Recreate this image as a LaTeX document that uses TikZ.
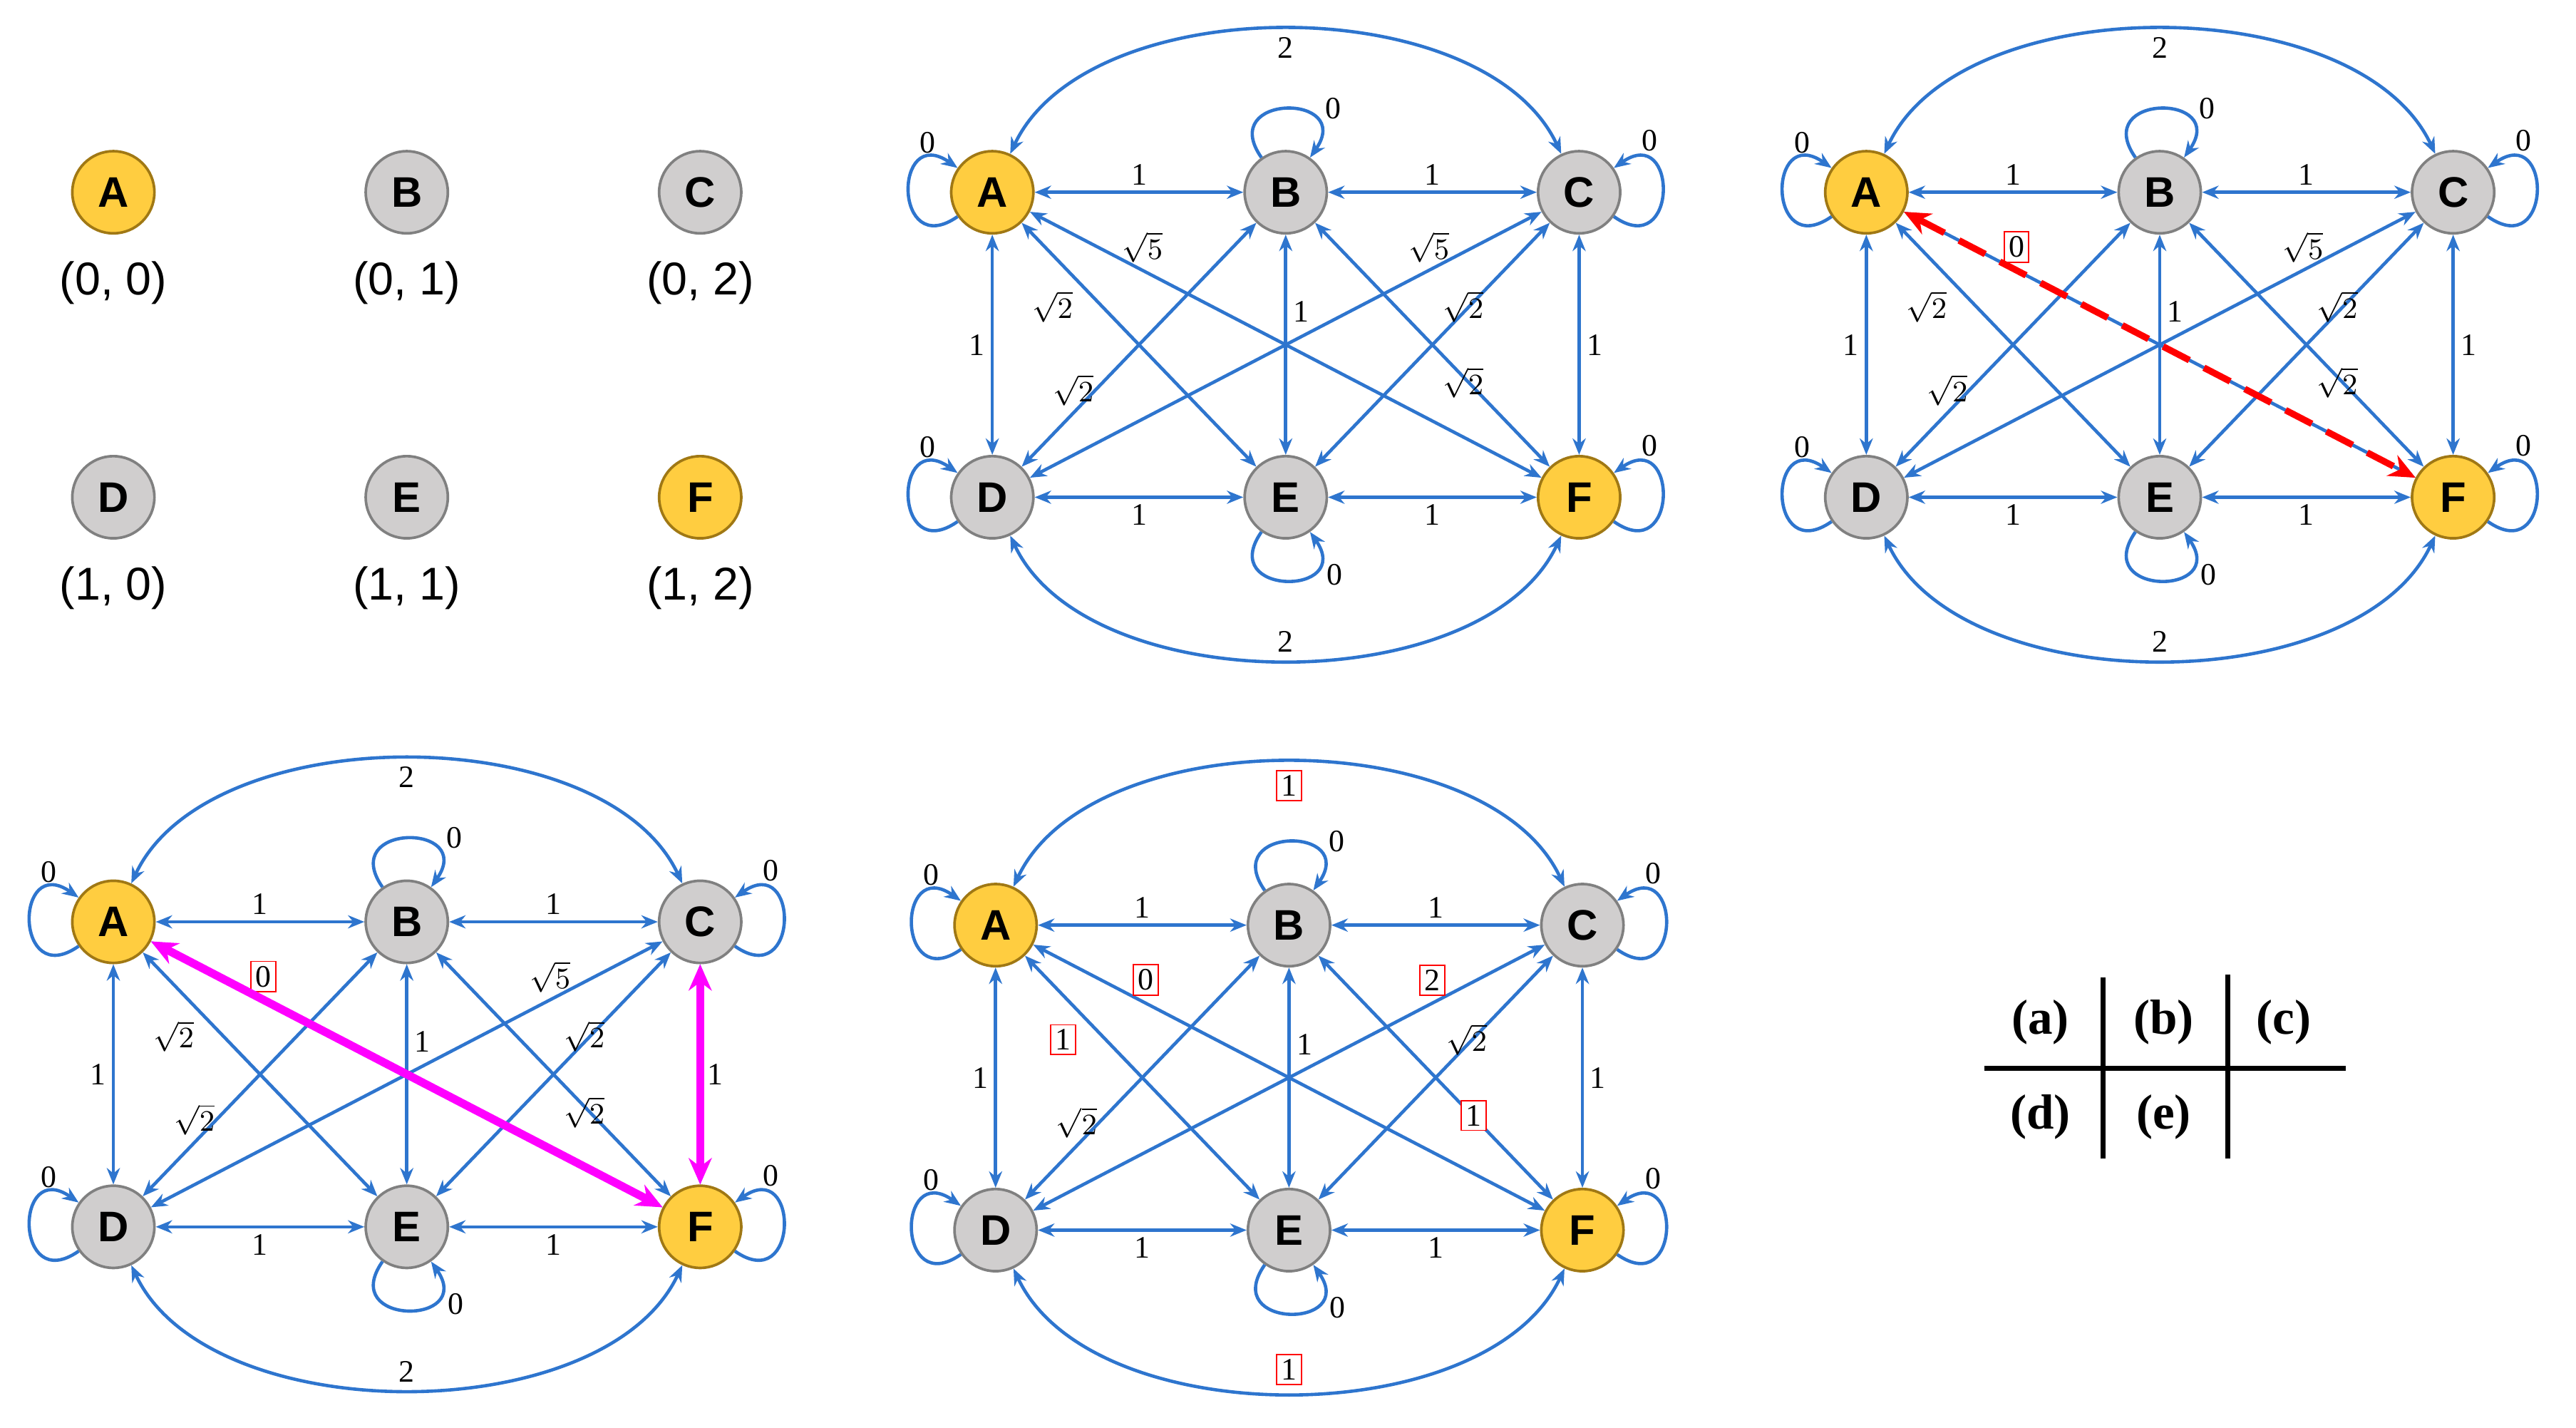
\documentclass[tikz,border=0pt]{standalone}
\usepackage{fontspec}
\setmainfont{Liberation Serif}
\newfontfamily\sansfont{Liberation Sans}
\usetikzlibrary{positioning,arrows.meta}

\definecolor{edgeblue}{RGB}{46,117,206}
\definecolor{nodegold}{RGB}{255,205,64}
\definecolor{golddraw}{RGB}{160,120,20}
\definecolor{nodegray}{RGB}{208,206,206}
\definecolor{graydraw}{RGB}{128,128,128}
\definecolor{pathpink}{RGB}{255,0,255}

\newcommand\bx[1]{{\setlength{\fboxsep}{1.2pt}\fcolorbox{red}{white}{#1}}}

\tikzset{
gold/.style={circle, draw=golddraw, fill=nodegold, thick, minimum size=25pt, inner sep=0pt, font=\sansfont\bfseries\fontsize{13}{13}\selectfont},
grey/.style={circle, draw=graydraw, fill=nodegray, thick, minimum size=25pt, inner sep=0pt, font=\sansfont\bfseries\fontsize{13}{13}\selectfont},
edge/.style={{Stealth[length=5pt,width=4pt]}-{Stealth[length=5pt,width=4pt]}, draw=edgeblue, line width=1pt},
loopy/.style={-{Stealth[length=5pt,width=4pt]}, draw=edgeblue, line width=1pt},
lbl/.style={font=\fontsize{9.5}{9.5}\selectfont, inner sep=1.8pt, text=black},
coord/.style={font=\sansfont\fontsize{14}{14}\selectfont, inner sep=1pt},
tab/.style={font=\bfseries\fontsize{15}{15}\selectfont}
}

% #1 prefix, #2 #3 position of A, #4 AC, #5 DF, #6 AF, #7 CD, #8 AE, #9 BF
\newcommand\panel[9]{%
\node[gold](#1A) at (#2,#3) {A};
\node[grey](#1B)[right=of #1A]{B};
\node[grey](#1C)[right=of #1B]{C};
\node[grey](#1D)[below=of #1A]{D};
\node[grey](#1E)[right=of #1D]{E};
\node[gold](#1F)[right=of #1E]{F};

\draw[edge] (#1A) -- node[lbl,above]{1} (#1B);
\draw[edge] (#1B) -- node[lbl,above]{1} (#1C);
\draw[edge] (#1D) -- node[lbl,below]{1} (#1E);
\draw[edge] (#1E) -- node[lbl,below]{1} (#1F);
\draw[edge] (#1A) -- node[lbl,left]{1} (#1D);
\draw[edge] (#1B) -- node[lbl,right,pos=0.35]{1} (#1E);
\draw[edge] (#1C) -- node[lbl,right]{1} (#1F);
\draw[edge] (#1A) to[out=65,in=115,looseness=0.85] node[lbl,below]{#4} (#1C);
\draw[edge] (#1D) to[out=-65,in=-115,looseness=0.85] node[lbl,above]{#5} (#1F);
\draw[edge] (#1A) -- node[lbl,above,pos=0.22]{#6} (#1F);
\draw[edge] (#1C) -- node[lbl,above,pos=0.22]{#7} (#1D);
\draw[edge] (#1A) -- node[lbl,below left,pos=0.25]{#8} (#1E);
\draw[edge] (#1B) -- node[lbl,above,pos=0.78]{$\sqrt{2}$} (#1D);
\draw[edge] (#1C) -- node[lbl,below left,pos=0.25]{$\sqrt{2}$} (#1E);
\draw[edge] (#1B) -- node[lbl,above left,pos=0.75]{#9} (#1F);

\draw[loopy] (#1A) to[loop,out=215,in=145,min distance=24pt] node[lbl,pos=0.92,above left]{0} (#1A);
\draw[loopy] (#1B) to[loop,out=125,in=55,min distance=24pt] node[lbl,pos=0.8,above right]{0} (#1B);
\draw[loopy] (#1C) to[loop,out=-35,in=35,min distance=24pt] node[lbl,pos=0.88,above right]{0} (#1C);
\draw[loopy] (#1D) to[loop,out=215,in=145,min distance=24pt] node[lbl,pos=0.92,above left]{0} (#1D);
\draw[loopy] (#1E) to[loop,out=-125,in=-55,min distance=24pt] node[lbl,pos=0.85,below right]{0} (#1E);
\draw[loopy] (#1F) to[loop,out=-35,in=35,min distance=24pt] node[lbl,pos=0.88,above right]{0} (#1F);
}

\begin{document}
\begin{tikzpicture}[x=0.5pt, y=-0.5pt, node distance=67pt and 63.5pt]
\useasboundingbox (0,0) rectangle (1568,869);

% (a)
\node[gold](aA) at (69,117){A};
\node[grey](aB)[right=of aA]{B};
\node[grey](aC)[right=of aB]{C};
\node[grey](aD)[below=of aA]{D};
\node[grey](aE)[right=of aD]{E};
\node[gold](aF)[right=of aE]{F};
\node[coord](aAc)[below=7pt of aA]{(0, 0)};
\node[coord](aBc)[below=7pt of aB]{(0, 1)};
\node[coord](aCc)[below=7pt of aC]{(0, 2)};
\node[coord](aDc)[below=7pt of aD]{(1, 0)};
\node[coord](aEc)[below=7pt of aE]{(1, 1)};
\node[coord](aFc)[below=7pt of aF]{(1, 2)};

% (b)
\panel{b}{604}{117}{2}{2}{$\sqrt{5}$}{$\sqrt{5}$}{$\sqrt{2}$}{$\sqrt{2}$}

% (c)
\panel{c}{1136}{117}{2}{2}{\bx{0}}{$\sqrt{5}$}{$\sqrt{2}$}{$\sqrt{2}$}
\draw[red, dash pattern=on 9pt off 5pt, line width=2pt, {Stealth[length=8pt,width=7pt]}-{Stealth[length=8pt,width=7pt]}] (cA) -- (cF);

% (d)
\panel{d}{69}{561}{2}{2}{\bx{0}}{$\sqrt{5}$}{$\sqrt{2}$}{$\sqrt{2}$}
\draw[pathpink, line width=2.5pt, {Stealth[length=8pt,width=7pt]}-{Stealth[length=8pt,width=7pt]}] (dA) -- (dF);
\draw[pathpink, line width=2.5pt, {Stealth[length=8pt,width=7pt]}-{Stealth[length=8pt,width=7pt]}] (dC) -- (dF);

% (e)
\panel{e}{606}{563}{\bx{1}}{\bx{1}}{\bx{0}}{\bx{2}}{\bx{1}}{\bx{1}}

% table
\node[tab](ta) at (1242,622){(a)};
\node[tab](tb) at (1317,622){(b)};
\node[tab](tc) at (1390,622){(c)};
\node[tab](td) at (1242,680){(d)};
\node[tab](te) at (1317,680){(e)};
\draw[line width=1.5pt] (1208,650) -- (1428,650);
\draw[line width=1.5pt] (1280,595) -- (1280,705);
\draw[line width=1.5pt] (1356,593) -- (1356,705);
\end{tikzpicture}
\end{document}
